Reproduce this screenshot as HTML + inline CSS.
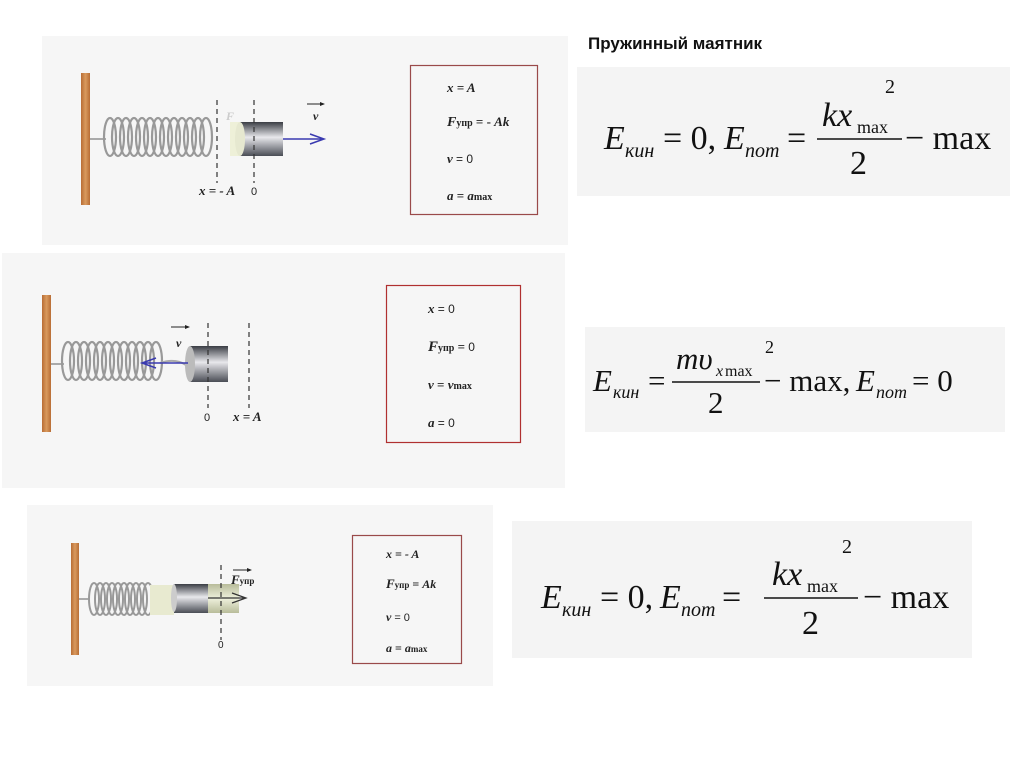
<!DOCTYPE html>
<html><head><meta charset="utf-8"><style>
html,body{margin:0;padding:0;background:#fff;}
svg{display:block}
.s{font-family:"Liberation Serif",serif}
.a{font-family:"Liberation Sans",sans-serif}
</style></head><body>
<svg width="1024" height="767" viewBox="0 0 1024 767" xmlns="http://www.w3.org/2000/svg">
<defs>
<linearGradient id="cyl" x1="0" y1="0" x2="0" y2="1">
<stop offset="0" stop-color="#3a3d44"/><stop offset="0.45" stop-color="#e8e8ec"/><stop offset="1" stop-color="#4a4d55"/>
</linearGradient>
<linearGradient id="ghost" x1="0" y1="0" x2="0" y2="1">
<stop offset="0" stop-color="#b8bc9a"/><stop offset="0.5" stop-color="#eef0dc"/><stop offset="1" stop-color="#b8bc9a"/>
</linearGradient>
<linearGradient id="wood" x1="0" y1="0" x2="1" y2="0">
<stop offset="0" stop-color="#b86d35"/><stop offset="0.5" stop-color="#d99a5e"/><stop offset="1" stop-color="#b86d35"/>
</linearGradient>
</defs>

<text x="588" y="49" class="a" font-size="17" font-weight="bold" fill="#111">Пружинный маятник</text>

<!-- Panel 1 -->
<rect x="42" y="36" width="526" height="209" fill="#f6f6f6"/>
<rect x="81" y="73" width="9" height="132" fill="url(#wood)"/>
<line x1="90" y1="139" x2="106" y2="139" stroke="#aaa" stroke-width="2"/>
<g fill="none" stroke="#999" stroke-width="2.2">
<ellipse cx="110" cy="137" rx="6" ry="19"/><ellipse cx="118" cy="137" rx="6" ry="19"/><ellipse cx="126" cy="137" rx="6" ry="19"/><ellipse cx="134" cy="137" rx="6" ry="19"/><ellipse cx="142" cy="137" rx="6" ry="19"/><ellipse cx="150" cy="137" rx="6" ry="19"/><ellipse cx="158" cy="137" rx="6" ry="19"/><ellipse cx="166" cy="137" rx="6" ry="19"/><ellipse cx="174" cy="137" rx="6" ry="19"/><ellipse cx="182" cy="137" rx="6" ry="19"/><ellipse cx="190" cy="137" rx="6" ry="19"/><ellipse cx="198" cy="137" rx="6" ry="19"/><ellipse cx="206" cy="137" rx="6" ry="19"/>
</g>
<rect x="230" y="122" width="12" height="34" fill="#eef0d8"/>
<rect x="240" y="122" width="43" height="34" fill="url(#cyl)"/>
<ellipse cx="240" cy="139" rx="5" ry="17" fill="#e6e8d0"/>
<g stroke="#333" stroke-width="1.2" stroke-dasharray="5,4"><line x1="217" y1="100" x2="217" y2="183"/><line x1="254" y1="100" x2="254" y2="183"/></g>
<line x1="283" y1="139" x2="322" y2="139" stroke="#3a3ab0" stroke-width="1.5"/>
<path d="M310 134 L324 139 L310 144" fill="none" stroke="#3a3ab0" stroke-width="1.5"/>
<line x1="307" y1="104" x2="324" y2="104" stroke="#222" stroke-width="1"/><path d="M320 102 L325 104 L320 106" fill="#222"/>
<text x="313" y="120" class="s" font-size="12" font-style="italic" font-weight="bold" fill="#222">v</text>
<text x="226" y="120" class="s" font-size="12" font-style="italic" font-weight="bold" fill="#ccc">F</text>
<text x="199" y="195" class="s" font-size="13" font-style="italic" font-weight="bold" fill="#222">x = - A</text>
<text x="251" y="195" class="a" font-size="11" fill="#222">0</text>
<rect x="410.5" y="65.5" width="127" height="149" fill="none" stroke="#9a4a4a" stroke-width="1.2"/>
<g class="s" font-size="13" font-weight="bold" fill="#222">
<text x="447" y="92" font-style="italic">x = A</text>
<text x="447" y="126"><tspan font-style="italic" font-size="14">F</tspan><tspan font-size="10">упр</tspan> = - <tspan font-style="italic">Ak</tspan></text>
<text x="447" y="163"><tspan font-style="italic">v</tspan> <tspan class="a" font-weight="normal" font-size="12">= 0</tspan></text>
<text x="447" y="200"><tspan font-style="italic">a</tspan> = <tspan font-style="italic">a</tspan><tspan font-size="10">max</tspan></text>
</g>

<!-- Panel 2 -->
<rect x="2" y="253" width="563" height="235" fill="#f6f6f6"/>
<rect x="42" y="295" width="9" height="137" fill="url(#wood)"/>
<line x1="51" y1="364" x2="64" y2="364" stroke="#aaa" stroke-width="2"/>
<g fill="none" stroke="#999" stroke-width="2.2">
<ellipse cx="68" cy="361" rx="6" ry="19"/><ellipse cx="76" cy="361" rx="6" ry="19"/><ellipse cx="84" cy="361" rx="6" ry="19"/><ellipse cx="92" cy="361" rx="6" ry="19"/><ellipse cx="100" cy="361" rx="6" ry="19"/><ellipse cx="108" cy="361" rx="6" ry="19"/><ellipse cx="116" cy="361" rx="6" ry="19"/><ellipse cx="124" cy="361" rx="6" ry="19"/><ellipse cx="132" cy="361" rx="6" ry="19"/><ellipse cx="140" cy="361" rx="6" ry="19"/><ellipse cx="148" cy="361" rx="6" ry="19"/><ellipse cx="156" cy="361" rx="6" ry="19"/>
</g>
<path d="M160 363 Q175 358 186 365" fill="none" stroke="#aaa" stroke-width="2"/>
<rect x="190" y="346" width="38" height="36" fill="url(#cyl)"/>
<ellipse cx="190" cy="364" rx="5" ry="18" fill="#bbb"/>
<g stroke="#333" stroke-width="1.2" stroke-dasharray="5,4"><line x1="208" y1="323" x2="208" y2="408"/><line x1="249" y1="323" x2="249" y2="408"/></g>
<line x1="188" y1="363" x2="144" y2="363" stroke="#3a3ab0" stroke-width="1.5"/>
<path d="M156 358 L142 363 L156 368" fill="none" stroke="#3a3ab0" stroke-width="1.5"/>
<line x1="171" y1="327" x2="189" y2="327" stroke="#222" stroke-width="1"/><path d="M185 325 L190 327 L185 329" fill="#222"/>
<text x="176" y="347" class="s" font-size="12" font-style="italic" font-weight="bold" fill="#222">v</text>
<text x="204" y="421" class="a" font-size="11" fill="#222">0</text>
<text x="233" y="421" class="s" font-size="13" font-style="italic" font-weight="bold" fill="#222">x = A</text>
<rect x="386.5" y="285.5" width="134" height="157" fill="none" stroke="#b03030" stroke-width="1.2"/>
<g class="s" font-size="13" font-weight="bold" fill="#222">
<text x="428" y="313"><tspan font-style="italic">x</tspan> <tspan class="a" font-weight="normal" font-size="12">= 0</tspan></text>
<text x="428" y="351"><tspan font-style="italic" font-size="15">F</tspan><tspan font-size="10">упр</tspan> = <tspan class="a" font-weight="normal" font-size="12"> 0</tspan></text>
<text x="428" y="389"><tspan font-style="italic">v</tspan> = <tspan font-style="italic">v</tspan><tspan font-size="10">max</tspan></text>
<text x="428" y="427"><tspan font-style="italic">a</tspan> <tspan class="a" font-weight="normal" font-size="12">= 0</tspan></text>
</g>

<!-- Panel 3 -->
<rect x="27" y="505" width="466" height="181" fill="#f6f6f6"/>
<rect x="71" y="543" width="8" height="112" fill="url(#wood)"/>
<line x1="79" y1="599" x2="90" y2="599" stroke="#aaa" stroke-width="2"/>
<g fill="none" stroke="#999" stroke-width="2">
<ellipse cx="94" cy="599" rx="5" ry="16"/><ellipse cx="100" cy="599" rx="5" ry="16"/><ellipse cx="106" cy="599" rx="5" ry="16"/><ellipse cx="112" cy="599" rx="5" ry="16"/><ellipse cx="118" cy="599" rx="5" ry="16"/><ellipse cx="124" cy="599" rx="5" ry="16"/><ellipse cx="130" cy="599" rx="5" ry="16"/><ellipse cx="136" cy="599" rx="5" ry="16"/><ellipse cx="142" cy="599" rx="5" ry="16"/><ellipse cx="148" cy="599" rx="5" ry="16"/>
</g>
<rect x="150" y="585" width="24" height="30" fill="#e8ead0"/>
<rect x="174" y="584" width="34" height="29" fill="url(#cyl)"/>
<rect x="208" y="584" width="31" height="29" fill="url(#ghost)"/>
<ellipse cx="174" cy="598" rx="3" ry="14" fill="#ccc"/>
<line x1="208" y1="598" x2="244" y2="598" stroke="#333" stroke-width="1.2"/>
<path d="M232 593 L246 598 L232 603" fill="none" stroke="#333" stroke-width="1.2"/>
<line x1="221" y1="565" x2="221" y2="640" stroke="#333" stroke-width="1.2" stroke-dasharray="5,4"/>
<line x1="233" y1="570" x2="251" y2="570" stroke="#222" stroke-width="1"/><path d="M247 568 L252 570 L247 572" fill="#222"/>
<text x="231" y="584" class="s" font-weight="bold" fill="#222"><tspan font-style="italic" font-size="13">F</tspan><tspan font-size="9">упр</tspan></text>
<text x="218" y="648" class="a" font-size="10" fill="#222">0</text>
<rect x="352.5" y="535.5" width="109" height="128" fill="none" stroke="#9a4a4a" stroke-width="1.2"/>
<g class="s" font-size="12" font-weight="bold" fill="#222">
<text x="386" y="558" font-style="italic">x = - A</text>
<text x="386" y="588"><tspan font-style="italic" font-size="13">F</tspan><tspan font-size="9">упр</tspan> = <tspan font-style="italic">Ak</tspan></text>
<text x="386" y="621"><tspan font-style="italic">v</tspan> <tspan class="a" font-weight="normal" font-size="11">= 0</tspan></text>
<text x="386" y="652"><tspan font-style="italic">a</tspan> = <tspan font-style="italic">a</tspan><tspan font-size="9">max</tspan></text>
</g>

<!-- Formula 1 -->
<rect x="577" y="67" width="433" height="129" fill="#f4f4f4"/>
<g class="s" fill="#111">
<text x="604" y="149" font-size="34" font-style="italic">E</text>
<text x="625" y="157" font-size="20" font-style="italic">кин</text>
<text x="663" y="149" font-size="34">= 0,</text>
<text x="724" y="149" font-size="34" font-style="italic">E</text>
<text x="745" y="157" font-size="20" font-style="italic">пот</text>
<text x="787" y="149" font-size="34">=</text>
<text x="822" y="126" font-size="34" font-style="italic">kx</text>
<text x="857" y="133" font-size="18">max</text>
<text x="885" y="93" font-size="20">2</text>
<line x1="817" y1="139" x2="902" y2="139" stroke="#111" stroke-width="1.5"/>
<text x="850" y="174" font-size="34">2</text>
<text x="905" y="149" font-size="34">− max</text>
</g>

<!-- Formula 2 -->
<rect x="585" y="327" width="420" height="105" fill="#f4f4f4"/>
<g class="s" fill="#111">
<text x="593" y="391" font-size="31" font-style="italic">E</text>
<text x="613" y="398" font-size="18" font-style="italic">кин</text>
<text x="648" y="391" font-size="31">=</text>
<text x="676" y="369" font-size="31" font-style="italic">mυ</text>
<text x="716" y="376" font-size="16" font-style="italic">x</text><text x="725" y="376" font-size="16">max</text>
<text x="765" y="353" font-size="18">2</text>
<line x1="672" y1="382" x2="760" y2="382" stroke="#111" stroke-width="1.4"/>
<text x="708" y="413" font-size="31">2</text>
<text x="764" y="391" font-size="31">− max,</text>
<text x="856" y="391" font-size="31" font-style="italic">E</text>
<text x="876" y="398" font-size="18" font-style="italic">пот</text>
<text x="912" y="391" font-size="31">= 0</text>
</g>

<!-- Formula 3 -->
<rect x="512" y="521" width="460" height="137" fill="#f4f4f4"/>
<g class="s" fill="#111">
<text x="541" y="608" font-size="34" font-style="italic">E</text>
<text x="562" y="616" font-size="20" font-style="italic">кин</text>
<text x="600" y="608" font-size="34">= 0,</text>
<text x="660" y="608" font-size="34" font-style="italic">E</text>
<text x="681" y="616" font-size="20" font-style="italic">пот</text>
<text x="722" y="608" font-size="34">=</text>
<text x="772" y="585" font-size="34" font-style="italic">kx</text>
<text x="807" y="592" font-size="18">max</text>
<text x="842" y="553" font-size="20">2</text>
<line x1="764" y1="598" x2="858" y2="598" stroke="#111" stroke-width="1.5"/>
<text x="802" y="634" font-size="34">2</text>
<text x="863" y="608" font-size="34">− max</text>
</g>
</svg>
</body></html>
